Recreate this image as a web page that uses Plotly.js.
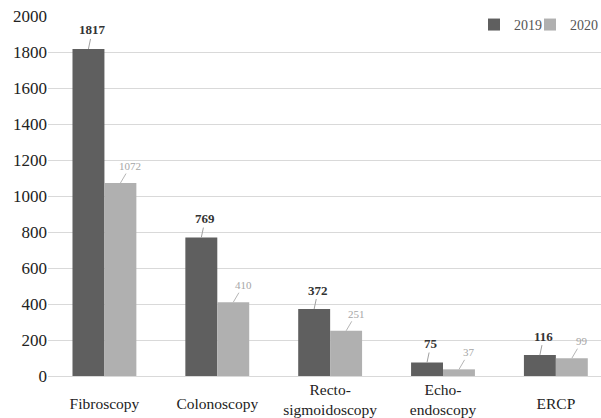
<!DOCTYPE html>
<html>
<head>
<meta charset="utf-8">
<script src="https://cdn.plot.ly/plotly-3.0.1.min.js"></script>
<style>html,body{margin:0;padding:0;background:#fff;}#chart{width:601px;height:418px;}</style>
</head>
<body>
<div id="chart"></div>
<script>
var categories = ["Fibroscopy", "Colonoscopy", "Recto-<br>sigmoidoscopy", "Echo-<br>endoscopy", "ERCP"];
var values2019 = [1817, 769, 372, 75, 116];
var values2020 = [1072, 410, 251, 37, 99];
var seriesNames = ["2019", "2020"];
var yTicks = [0, 200, 400, 600, 800, 1000, 1200, 1400, 1600, 1800, 2000];

var serif = "'Liberation Serif', 'DejaVu Serif', serif";
var xIdx = categories.map(function (c, i) { return i; });
var singleIdx = xIdx.filter(function (i) { return categories[i].indexOf("<br>") < 0; });
var multiIdx = xIdx.filter(function (i) { return categories[i].indexOf("<br>") >= 0; });

var traces = [
  {type: "bar", name: seriesNames[0], x: xIdx, y: values2019, marker: {color: "#5f5f5f"}, legend: "legend"},
  {type: "bar", name: seriesNames[1], x: xIdx, y: values2020, marker: {color: "#b0b0b0"}, legend: "legend2"},
  {type: "scatter", x: [], y: [], xaxis: "x2", showlegend: false, hoverinfo: "skip"}
];

var annotations = [];
xIdx.forEach(function (i) {
  annotations.push({x: i, y: values2019[i], xref: "x", yref: "y", text: "<b>" + values2019[i] + "</b>",
    showarrow: true, arrowhead: 0, arrowwidth: 1, arrowcolor: "#a0a0a0", ax: 4, ay: -19, xshift: -16,
    font: {family: serif, size: 13, color: "#333"}});
  annotations.push({x: i, y: values2020[i], xref: "x", yref: "y", text: String(values2020[i]),
    showarrow: true, arrowhead: 0, arrowwidth: 1, arrowcolor: "#b5b5b5", ax: 10, ay: -17, xshift: 16,
    font: {family: serif, size: 11, color: "#a6a6a6"}});
});

var legendFont = {family: serif, size: 14, color: "#555"};
var catFont = {family: serif, size: 15.5, color: "#222"};
var xRange = [-0.5, 4.4];
var layout = {
  width: 601, height: 418,
  margin: {l: 48, r: 0, t: 16, b: 42, autoexpand: false},
  paper_bgcolor: "#fff", plot_bgcolor: "#fff",
  barmode: "group", bargap: 0.434, bargroupgap: 0,
  font: {family: serif, color: "#222"},
  xaxis: {range: xRange, tickvals: singleIdx, ticktext: singleIdx.map(function (i) { return categories[i]; }),
    showgrid: false, zeroline: false, showline: false, ticks: "",
    ticklabelstandoff: 16, tickfont: catFont},
  xaxis2: {range: xRange, overlaying: "x", anchor: "y", side: "bottom",
    tickvals: multiIdx, ticktext: multiIdx.map(function (i) { return categories[i]; }),
    showgrid: false, zeroline: false, showline: false, ticks: "",
    ticklabelstandoff: 2, tickfont: catFont},
  yaxis: {range: [0, 2000], tickvals: yTicks, ticktext: yTicks.map(String), showgrid: true, gridcolor: "#d9d9d9",
    zeroline: true, zerolinecolor: "#d9d9d9", showline: false, ticks: "",
    tickfont: {family: serif, size: 17, color: "#222"}},
  showlegend: true,
  legend: {orientation: "h", x: 0.7703, y: 1.0196, xanchor: "left", yanchor: "top", bgcolor: "rgba(0,0,0,0)", font: legendFont},
  legend2: {orientation: "h", x: 0.8716, y: 1.0196, xanchor: "left", yanchor: "top", bgcolor: "rgba(0,0,0,0)", font: legendFont},
  annotations: annotations
};

Plotly.newPlot("chart", traces, layout, {displayModeBar: false, staticPlot: true});
</script>
</body>
</html>
